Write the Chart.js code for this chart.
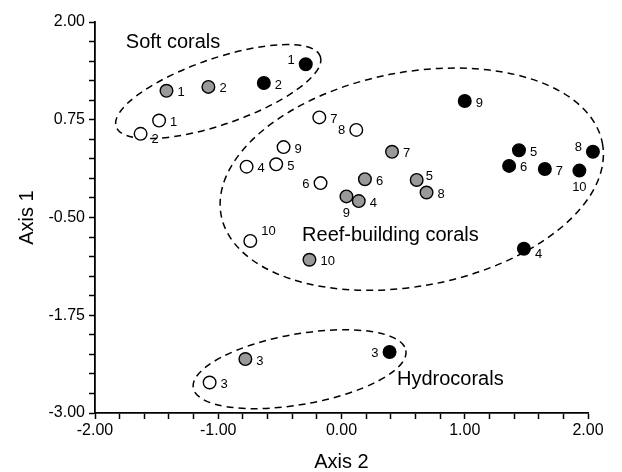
<!DOCTYPE html>
<html>
<head>
<meta charset="utf-8">
<script src="https://cdn.jsdelivr.net/npm/chart.js@4.4.1/dist/chart.umd.min.js"></script>
<style>
  html, body { margin: 0; padding: 0; background: #ffffff; }
  #wrap { width: 622px; height: 472px; }
</style>
</head>
<body>
<div id="wrap"><canvas id="chart" width="622" height="472"></canvas></div>
<script>
// sample ids, same for every group (1..10)
const sampleIds = ['1', '2', '3', '4', '5', '6', '7', '8', '9', '10']

// white circles
const whiteX = [-1.48, -1.63, -1.07, -0.77, -0.53, -0.17, -0.18, 0.12, -0.47, -0.74]
const whiteY = [0.74, 0.57, -2.61, 0.15, 0.18, -0.06, 0.78, 0.62, 0.40, -0.80]
// grey circles
const greyX = [-1.42, -1.08, -0.78, 0.14, 0.61, 0.19, 0.41, 0.69, 0.04, -0.26]
const greyY = [1.12, 1.17, -2.31, -0.29, -0.02, -0.01, 0.34, -0.18, -0.23, -1.04]
// black circles
const blackX = [-0.29, -0.63, 0.39, 1.48, 1.44, 1.36, 1.65, 2.04, 1.00, 1.93]
const blackY = [1.46, 1.22, -2.22, -0.90, 0.36, 0.16, 0.12, 0.34, 0.99, 0.10]

// group envelopes (dashed ellipses) and their names
const groupNames = ['Soft corals', 'Reef-building corals', 'Hydrocorals']
const groupNameX = [-1.75, -0.32, 0.45]
const groupNameY = [1.67, -0.80, -2.64]
const ellipseCx = [-1.00, 0.57, -0.34]
const ellipseCy = [1.11, -0.01, -2.44]
const ellipseA = [0.876, 1.574, 0.876]
const ellipseB = [0.268, 0.868, 0.286]
const ellipseTilt = [-19, -10.7, -10]

const xTicks = [-2, -1, 0, 1, 2]
const yTicks = [-3, -1.75, -0.5, 0.75, 2]

// where the number sits next to each circle
const labelSpots = {
  r: [11, 2, 'left'],
  br: [11, 6, 'left'],
  tr: [11, -10, 'left'],
  ur: [9, -4, 'left'],
  l: [-11, 1, 'right'],
  ul: [-11, -4, 'right'],
  b: [0, 17, 'center']
}
const whiteSpots = ['r', 'br', 'r', 'r', 'r', 'l', 'r', 'l', 'r', 'tr']
const greySpots = ['r', 'r', 'r', 'r', 'ur', 'r', 'r', 'r', 'b', 'r']
const blackSpots = ['ul', 'r', 'l', 'br', 'r', 'r', 'r', 'ul', 'r', 'b']

const fontFamily = '"Liberation Sans", Arial, sans-serif'

function points(xs, ys) {
  return xs.map((v, i) => ({ x: v, y: ys[i] }))
}

function onTick(v, list) {
  return list.some(t => Math.abs(t - v) < 1e-6)
}

const overlay = {
  id: 'overlay',
  beforeDatasetsDraw(chart) {
    const { ctx, scales: { x, y } } = chart
    const unit = Math.abs(x.getPixelForValue(1) - x.getPixelForValue(0))
    ctx.save()
    ctx.strokeStyle = '#000000'
    ctx.lineWidth = 1.5
    ctx.setLineDash([7, 5])
    ellipseCx.forEach((cx, i) => {
      ctx.beginPath()
      ctx.ellipse(x.getPixelForValue(cx), y.getPixelForValue(ellipseCy[i]),
        ellipseA[i] * unit, ellipseB[i] * unit, ellipseTilt[i] * Math.PI / 180, 0, Math.PI * 2)
      ctx.stroke()
    })
    ctx.restore()
  },
  afterDatasetsDraw(chart) {
    const { ctx, scales: { x, y } } = chart
    ctx.save()
    ctx.fillStyle = '#000000'
    ctx.font = '13px ' + fontFamily
    ctx.textBaseline = 'middle'
    const spots = [whiteSpots, greySpots, blackSpots]
    chart.data.datasets.forEach((ds, d) => {
      ds.data.forEach((p, i) => {
        const [dx, dy, align] = labelSpots[spots[d][i]]
        ctx.textAlign = align
        ctx.fillText(sampleIds[i], x.getPixelForValue(p.x) + dx, y.getPixelForValue(p.y) + dy)
      })
    })
    ctx.font = '20px ' + fontFamily
    ctx.textAlign = 'left'
    ctx.textBaseline = 'alphabetic'
    groupNames.forEach((name, i) => {
      ctx.fillText(name, x.getPixelForValue(groupNameX[i]), y.getPixelForValue(groupNameY[i]))
    })
    ctx.restore()
  }
}

const axisGrid = {
  drawOnChartArea: false,
  drawTicks: true,
  tickLength: 6,
  tickWidth: 1.5,
  color: '#000000'
}

const config = {
  type: 'scatter',
  data: {
    datasets: [
      { label: 'white', data: points(whiteX, whiteY), backgroundColor: '#ffffff' },
      { label: 'grey', data: points(greyX, greyY), backgroundColor: '#999999' },
      { label: 'black', data: points(blackX, blackY), backgroundColor: '#000000' }
    ]
  },
  options: {
    responsive: false,
    animation: false,
    events: [],
    layout: { padding: { top: 22, right: 34, bottom: 0, left: 0 } },
    elements: {
      point: {
        radius: 6.3,
        hoverRadius: 6.3,
        borderWidth: 1.4,
        borderColor: '#000000'
      }
    },
    datasets: { scatter: { clip: false } },
    plugins: {
      legend: { display: false },
      tooltip: { enabled: false }
    },
    scales: {
      x: {
        type: 'linear',
        min: -2,
        max: 2,
        afterFit: s => { s.height = 59 },
        border: { display: true, color: '#000000', width: 1.8 },
        grid: axisGrid,
        ticks: {
          stepSize: 0.2,
          autoSkip: false,
          maxRotation: 0,
          padding: 2,
          color: '#000000',
          font: { family: fontFamily, size: 16 },
          callback: v => onTick(v, xTicks) ? v.toFixed(2) : ''
        },
        title: {
          display: true,
          text: 'Axis 2',
          color: '#000000',
          font: { family: fontFamily, size: 20, lineHeight: 1 },
          padding: { top: 0, bottom: 0 }
        }
      },
      y: {
        type: 'linear',
        min: -3,
        max: 2,
        afterFit: s => { s.width = 95 },
        border: { display: true, color: '#000000', width: 1.8 },
        grid: axisGrid,
        ticks: {
          stepSize: 0.25,
          autoSkip: false,
          padding: 4,
          color: '#000000',
          font: { family: fontFamily, size: 16 },
          callback: v => onTick(v, yTicks) ? v.toFixed(2) : ''
        },
        title: {
          display: true,
          text: 'Axis 1',
          color: '#000000',
          font: { family: fontFamily, size: 20, lineHeight: 1 },
          padding: { top: 17, bottom: 0 }
        }
      }
    }
  },
  plugins: [overlay]
}

try {
  new Chart(document.getElementById('chart'), config)
} catch (error) {
  console.error(`Chart render failed: ${error}`)
}
</script>
</body>
</html>
